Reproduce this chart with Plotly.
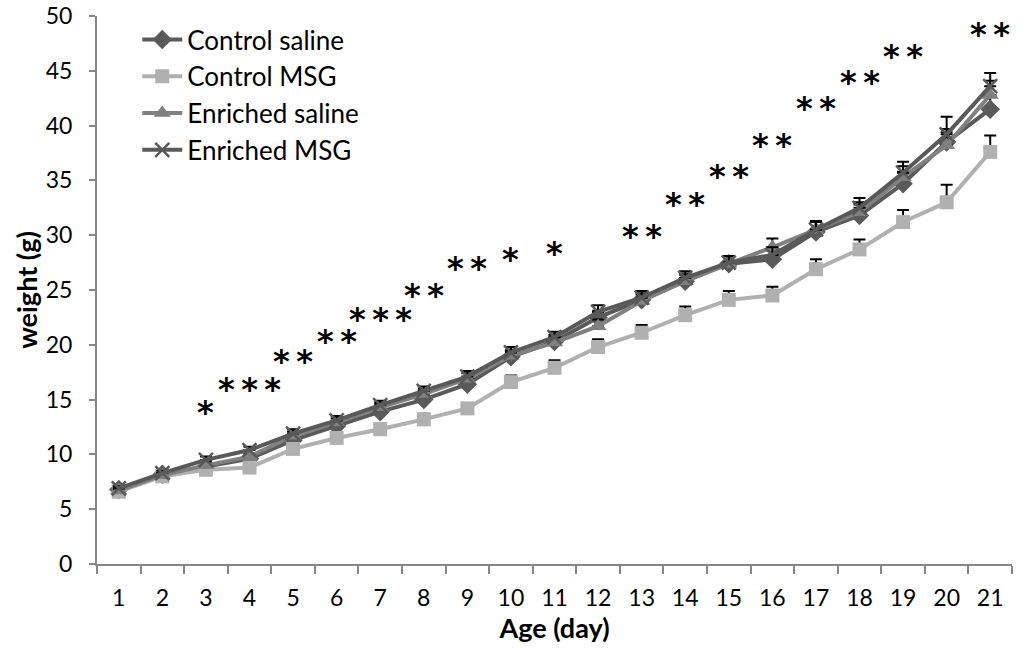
import plotly.graph_objects as go

days = [str(d) for d in range(1, 22)]

control_saline = [6.8, 8.2, 8.9, 9.6, 11.3, 12.6, 13.9, 15.0, 16.4, 18.9, 20.3,
                  22.5, 24.1, 25.8, 27.4, 27.8, 30.3, 31.8, 34.7, 38.5, 41.5]
control_msg = [6.6, 8.0, 8.6, 8.8, 10.5, 11.5, 12.3, 13.2, 14.2, 16.6, 17.9,
               19.8, 21.1, 22.7, 24.1, 24.5, 26.9, 28.7, 31.2, 33.0, 37.6]
enriched_saline = [6.7, 8.1, 9.0, 9.8, 11.7, 12.9, 14.3, 15.5, 16.9, 19.0, 20.2,
                   21.7, 24.0, 25.8, 27.4, 28.9, 30.5, 32.1, 35.3, 38.2, 42.8]
enriched_msg = [6.9, 8.3, 9.5, 10.4, 11.9, 13.1, 14.5, 15.8, 17.1, 19.3, 20.7,
                23.0, 24.3, 26.1, 27.5, 28.2, 30.5, 32.5, 35.7, 39.2, 43.6]

err_control_saline = [0.2, 0.2, 0.3, 0.3, 0.4, 0.4, 0.5, 0.5, 0.5, 0.5, 0.6,
                      0.6, 0.6, 0.7, 0.7, 0.8, 0.9, 1.0, 1.1, 1.2, 1.3]
err_control_msg = [0.2, 0.2, 0.3, 0.3, 0.4, 0.4, 0.5, 0.5, 0.5, 0.6, 0.7,
                   0.7, 0.7, 0.8, 0.8, 0.8, 0.9, 0.9, 1.1, 1.6, 1.5]
err_enriched_saline = [0.2, 0.2, 0.3, 0.3, 0.4, 0.4, 0.4, 0.5, 0.5, 0.5, 0.5,
                       0.6, 0.6, 0.6, 0.7, 0.8, 0.8, 0.9, 1.0, 1.2, 1.3]
err_enriched_msg = [0.2, 0.2, 0.3, 0.3, 0.4, 0.4, 0.4, 0.4, 0.5, 0.5, 0.5,
                    0.6, 0.6, 0.6, 0.6, 0.7, 0.8, 0.9, 1.0, 1.6, 1.2]

sig_days = ["3", "4", "5", "6", "7", "8", "9", "10", "11", "13", "14", "15", "16", "17", "18", "19", "21"]
sig_marks = ["*", "***", "**", "**", "***", "**", "**", "*", "*", "**", "**", "**", "**", "**", "**", "**", "**"]
sig_y = [14.2, 16.3, 18.9, 20.7, 22.7, 24.9, 27.4, 28.2, 28.7, 30.3, 33.2, 35.8, 38.6, 42.0, 44.3, 46.7, 48.7]

FONT = "Lato"

series = [
    ("Control saline", control_saline, err_control_saline, "#5a5a5a",
     dict(symbol="diamond", size=15, color="#5a5a5a")),
    ("Control MSG", control_msg, err_control_msg, "#b0b0b0",
     dict(symbol="square", size=14, color="#b0b0b0")),
    ("Enriched saline", enriched_saline, err_enriched_saline, "#808080",
     dict(symbol="triangle-up", size=15, color="#808080")),
    ("Enriched MSG", enriched_msg, err_enriched_msg, "#595959",
     dict(symbol="x-thin", size=14, color="#595959", line=dict(width=2.5, color="#595959"))),
]

fig = go.Figure()
for name, vals, errs, col, mk in series:
    fig.add_trace(go.Scatter(
        x=days, y=vals, name=name, mode="lines+markers",
        line=dict(color=col, width=4),
        marker=mk,
        error_y=dict(type="data", array=errs, arrayminus=[0] * len(errs),
                     symmetric=False, color="black", thickness=2, width=6),
    ))

for d, m, yv in zip(sig_days, sig_marks, sig_y):
    fig.add_annotation(x=days.index(d), y=yv, text="<b>" + "\u2009".join(m) + "</b>",
                       showarrow=False, yshift=-4,
                       font=dict(family="DejaVu Sans", size=32, color="black"))

fig.update_layout(
    width=1024, height=650,
    margin=dict(l=97, r=12, t=16, b=86, autoexpand=False),
    paper_bgcolor="white", plot_bgcolor="white",
    font=dict(family=FONT, size=23, color="black"),
    showlegend=True,
    legend=dict(x=0.044, y=1.0, xanchor="left", yanchor="top",
                font=dict(family=FONT, size=26, color="black"),
                bgcolor="rgba(0,0,0,0)", tracegroupgap=0, itemwidth=40),
    xaxis=dict(type="category", tickson="boundaries", ticks="outside", ticklen=8,
               tickcolor="#868686", tickwidth=2, showline=True, linecolor="#868686",
               linewidth=2, showgrid=False, range=[-0.5, 20.5], automargin=False,
               tickfont=dict(family=FONT, size=23), ticklabelstandoff=12,
               title=dict(text="<b>Age (day)</b>", font=dict(family=FONT, size=27), standoff=2)),
    yaxis=dict(range=[0, 50], dtick=5, ticks="outside", ticklen=6, tickcolor="#868686",
               tickwidth=2, showline=True, linecolor="#868686", linewidth=2,
               showgrid=False, zeroline=False, automargin=False,
               tickfont=dict(family=FONT, size=23), ticklabelstandoff=12,
               title=dict(text="<b>weight (g)</b>", font=dict(family=FONT, size=27), standoff=0)),
)

fig.write_html("out.html", config={"displayModeBar": False},
               post_script="document.body.style.margin='0';")
